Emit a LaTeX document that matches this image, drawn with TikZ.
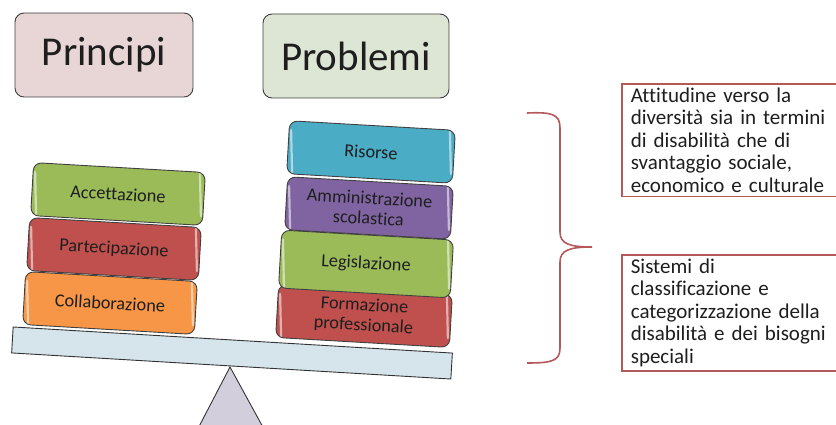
\documentclass[tikz,border=0pt]{standalone}
\usepackage{fontspec}
\setmainfont{Carlito}[Ligatures=NoCommon]
\definecolor{bilRosa}{HTML}{E8D6D6}
\definecolor{bilSalvia}{HTML}{DDE5D4}
\definecolor{bilVerde}{HTML}{9BBB59}
\definecolor{bilRosso}{HTML}{C0504D}
\definecolor{bilArancio}{HTML}{F79646}
\definecolor{bilAzzurro}{HTML}{4BACC6}
\definecolor{bilViola}{HTML}{8064A2}
\definecolor{bilTrave}{HTML}{D6E4EC}
\definecolor{bilPerno}{HTML}{D2CEDC}
\definecolor{bilBordo}{HTML}{B5585A}
\definecolor{bilTesto}{HTML}{1E1E1E}
\tikzset{
  bil title/.style={draw=black!75, line width=0.9pt, rounded corners=9pt, minimum width=178pt, minimum height=84pt, font=\fontsize{41}{44}\selectfont, text=bilTesto},
  bil block/.style={draw=black!75, line width=0.9pt, rounded corners=8pt, minimum width=172pt, minimum height=53pt, align=center, inner sep=2pt, font=\fontsize{18.3}{20}\selectfont, text=bilTesto,
    path picture={\draw[white, opacity=.55, line width=2.2pt, line cap=round]
      ([shift={(5pt,-9pt)}]path picture bounding box.north west) -- ([shift={(5pt,9pt)}]path picture bounding box.south west)
      ([shift={(-5pt,-9pt)}]path picture bounding box.north east) -- ([shift={(-5pt,9pt)}]path picture bounding box.south east);}},
  bil note/.style={draw=bilBordo, line width=1.6pt, anchor=north west, text width=240pt, inner xsep=9pt, inner ysep=4pt, align=left, font=\fontsize{21}{22.5}\selectfont, text=bilTesto},
  bil brace/.style={draw=bilBordo, line width=1.6pt},
}
\begin{document}
\begin{tikzpicture}[x=1pt,y=-1pt]
\useasboundingbox (0,0) rectangle (836,425);
% titoli
\node[bil title, fill=bilRosa] (principi) at (104,55) {Principi};
\node[bil title, fill=bilSalvia, minimum width=186pt] (problemi) at (356,56) {Problemi};
% perno e trave
\path[draw=black!80, line width=0.9pt, fill=bilPerno] (192,440) -- (230,367) coordinate (apice) -- (270,440);
\node[draw=black!80, line width=0.9pt, fill=bilTrave, minimum width=440pt, minimum height=26pt, rotate=-3.4] (trave) at (232,353) {};
% principi
\node[bil block, fill=bilArancio, rotate=-3.3] (coll) at (110,303) {Collaborazione};
\node[bil block, fill=bilRosso, rotate=-3.3] (part) at (114,249) {Partecipazione};
\node[bil block, fill=bilVerde, rotate=-3.3] (acc) at (118,194) {Accettazione};
% problemi
\node[bil block, fill=bilRosso, minimum width=174pt, rotate=-3.3] (form) at (364,316) {Formazione\\professionale};
\node[bil block, fill=bilVerde, minimum width=172pt, minimum height=58pt, rotate=-3.3] (leg) at (366,264) {Legislazione};
\node[bil block, fill=bilViola, minimum width=166pt, rotate=-3.3] (amm) at (369,208) {Amministrazione\\scolastica};
\node[bil block, fill=bilAzzurro, minimum width=166pt, rotate=-3.3] (ris) at (371,152) {Risorse};
% note
\node[bil note] (att) at (621,83) {Attitudine verso la\\diversità sia in termini\\di disabilità che di\\svantaggio sociale,\\economico e culturale};
\node[bil note] (sist) at (621,254) {Sistemi di\\classificazione e\\categorizzazione della\\disabilità e dei bisogni\\speciali};
\draw[bil brace] (527,113) .. controls (552,112) and (560,114) .. (560,128) -- (560,232)
  .. controls (560,244) and (570,247) .. (592,247) coordinate (punta)
  .. controls (570,247) and (560,250) .. (560,262) -- (560,348)
  .. controls (560,361) and (552,363) .. (527,363);
\end{tikzpicture}
\end{document}
